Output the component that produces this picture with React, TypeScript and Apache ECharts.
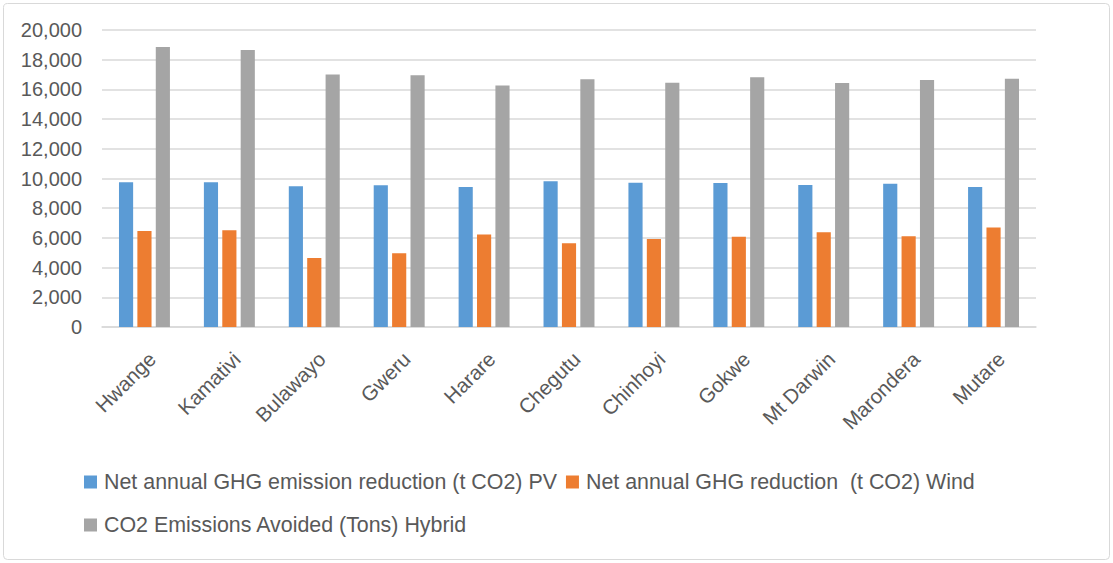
import React, { useEffect, useRef } from "react";
import * as echarts from "echarts";

const categories = ["Hwange", "Kamativi", "Bulawayo", "Gweru", "Harare", "Chegutu", "Chinhoyi", "Gokwe", "Mt Darwin", "Marondera", "Mutare"];
const pvValues = [9740, 9750, 9470, 9550, 9420, 9820, 9710, 9690, 9570, 9640, 9420];
const windValues = [6470, 6520, 4650, 4970, 6230, 5640, 5930, 6070, 6380, 6110, 6700];
const hybridValues = [18850, 18650, 17010, 16950, 16270, 16680, 16450, 16810, 16430, 16630, 16720];
const seriesNames = [
  "Net annual GHG emission reduction (t CO2) PV",
  "Net annual GHG reduction  (t CO2) Wind",
  "CO2 Emissions Avoided (Tons) Hybrid",
];
const colors = ["#5B9BD5", "#ED7D31", "#A5A5A5"];

const FONT = "'Liberation Sans', Arial, sans-serif";
const TEXT = "#595959";

export default function App() {
  const ref = useRef<HTMLDivElement>(null);
  useEffect(() => {
    if (!ref.current) return;
    const chart = echarts.init(ref.current, null, { renderer: "svg" });
    const data = [pvValues, windValues, hybridValues];
    const legendText = { color: TEXT, fontSize: 21.4, fontFamily: FONT, lineHeight: 22, padding: [0, 0, 0, 2] };
    chart.setOption({
      animation: false,
      backgroundColor: "#fff",
      textStyle: { fontFamily: FONT },
      graphic: [
        {
          type: "rect",
          shape: { x: 3.5, y: 3.5, width: 1106, height: 556, r: 4 },
          style: { fill: "none", stroke: "#D9D9D9", lineWidth: 1 },
          silent: true,
        },
      ],
      grid: { left: 102, right: 77, top: 30, bottom: 236, containLabel: false },
      legend: [
        {
          data: [seriesNames[0], seriesNames[1]],
          left: 84,
          top: 471,
          padding: 0,
          icon: "rect",
          itemWidth: 13,
          itemHeight: 13,
          itemGap: 9,
          textStyle: legendText,
        },
        {
          data: [seriesNames[2]],
          left: 84,
          top: 514,
          padding: 0,
          icon: "rect",
          itemWidth: 13,
          itemHeight: 13,
          textStyle: legendText,
        },
      ],
      xAxis: {
        type: "category",
        data: categories,
        axisLine: { lineStyle: { color: "#D9D9D9", width: 1.5 } },
        axisTick: { show: false },
        axisLabel: {
          rotate: 45,
          color: TEXT,
          fontSize: 20.5,
          fontFamily: FONT,
          margin: 21,
          interval: 0,
          verticalAlign: "top",
        },
      },
      yAxis: {
        type: "value",
        min: 0,
        max: 20000,
        interval: 2000,
        axisLine: { show: false },
        axisTick: { show: false },
        splitLine: { lineStyle: { color: "#D9D9D9", width: 1.5 } },
        axisLabel: {
          color: TEXT,
          fontSize: 20,
          fontFamily: FONT,
          margin: 20,
          formatter: (v: number) => v.toLocaleString("en-US"),
        },
      },
      series: data.map((d, i) => ({
        name: seriesNames[i],
        type: "bar",
        data: d,
        barGap: "30%",
        barCategoryGap: "40%",
        itemStyle: { color: colors[i] },
      })),
    });
    return () => chart.dispose();
  }, []);
  return <div ref={ref} style={{ position: "fixed", left: 0, top: 0, width: 1113, height: 563 }} />;
}
